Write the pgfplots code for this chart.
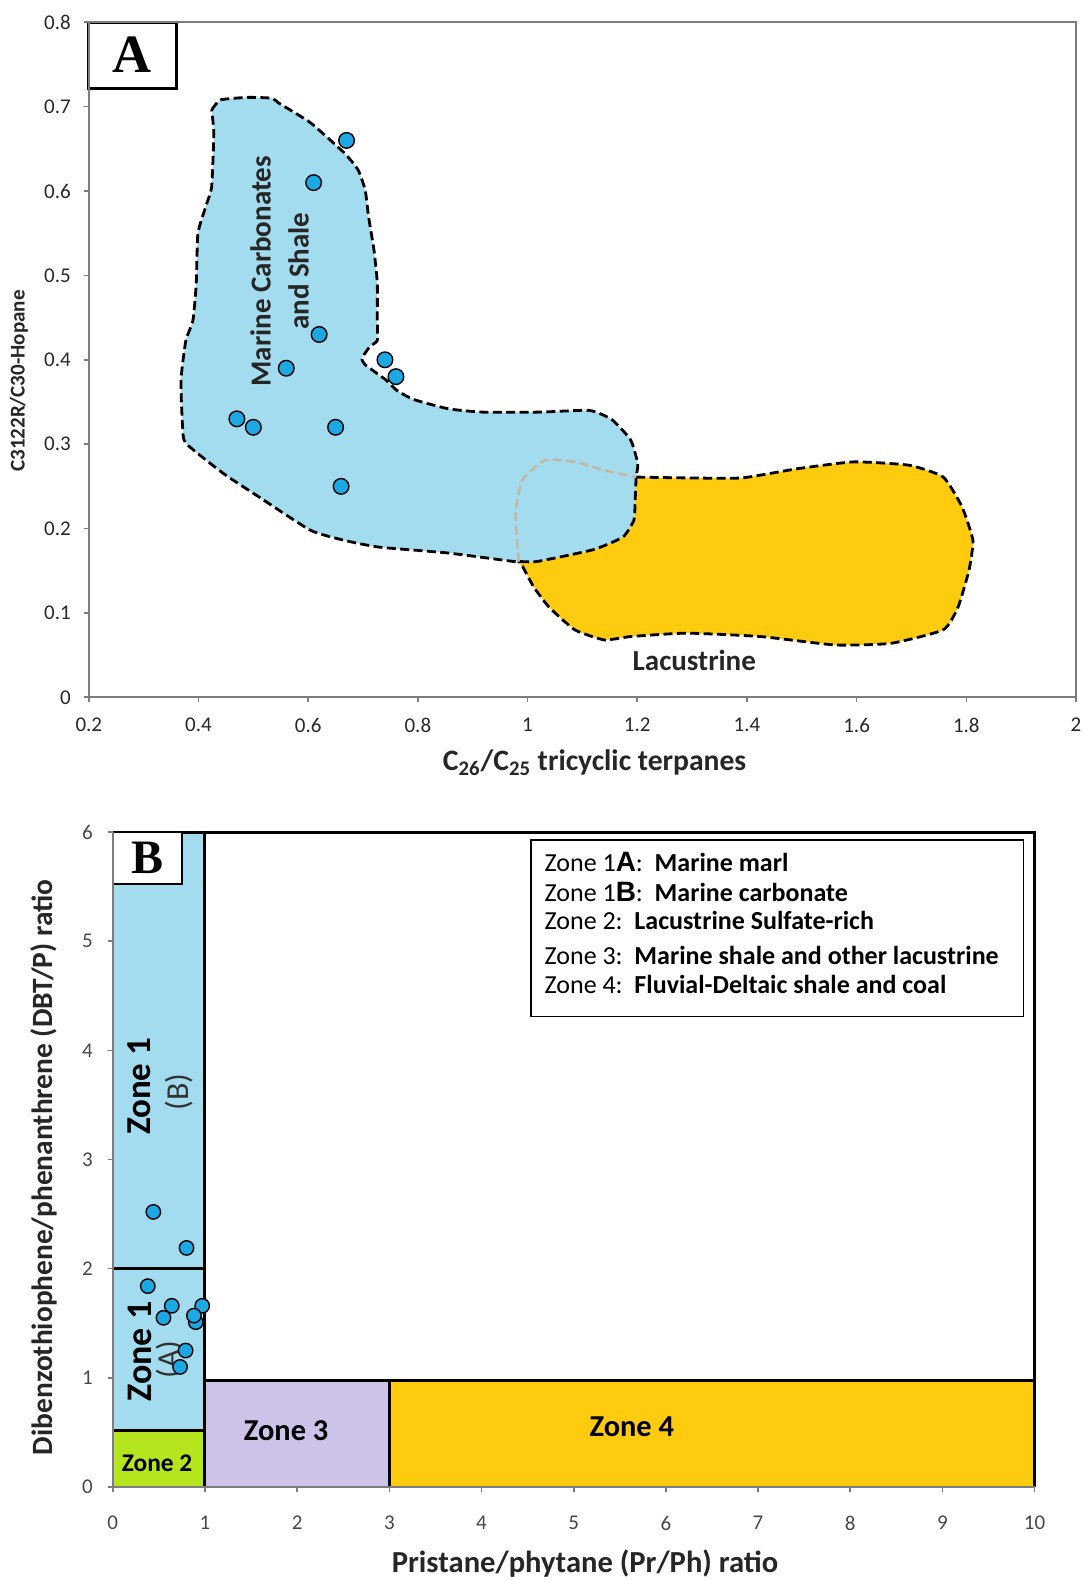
\documentclass[border=0pt]{standalone}
\usepackage{pgfplots}
\pgfplotsset{compat=1.18}
\usepackage{fontspec}
\setmainfont{Carlito}
\newfontfamily\timesfont{Liberation Serif}
\newfontfamily\arialfont{Liberation Sans}

\definecolor{marineblue}{RGB}{163,220,238}
\definecolor{lacyellow}{RGB}{254,203,15}
\definecolor{ptblue}{RGB}{28,168,226}
\definecolor{zonegreen}{RGB}{181,230,29}
\definecolor{zonelilac}{RGB}{205,194,231}
\definecolor{framegray}{RGB}{125,125,125}
\definecolor{ghost}{RGB}{196,182,160}
\definecolor{ticktext}{RGB}{40,40,40}

\newcommand{\fs}[2]{\fontsize{#1}{#2}\selectfont}

\tikzset{
  outline/.style={draw=black, line width=1.4pt, dash pattern=on 4.5pt off 2.2pt, line join=round},
  sample/.style={only marks, mark=*, mark size=3.9pt,
    mark options={fill=ptblue, draw=black, line width=0.7pt}},
}

\begin{document}
\begin{tikzpicture}
\path[use as bounding box] (0,0) rectangle (541.5pt,790pt);

% ---------------- Panel A ----------------
\begin{axis}[
  at={(44.4pt,441.35pt)}, anchor=south west,
  scale only axis, width=493.6pt, height=337.5pt,
  xmin=0.2, xmax=2, ymin=0, ymax=0.8,
  xtick={0.2,0.4,0.6,0.8,1,1.2,1.4,1.6,1.8,2},
  ytick={0,0.1,0.2,0.3,0.4,0.5,0.6,0.7,0.8},
  tick pos=left, tick align=outside,
  major tick length=2.5pt,
  tick style={framegray, line width=0.8pt},
  axis line style={framegray, line width=1pt},
  /pgf/number format/assume math mode=true,
  ticklabel style={font=\fs{10.5pt}{12pt}, text=ticktext},
  xticklabel style={yshift=-4.5pt},
  yticklabel style={xshift=-3pt},
  axis on top,
  clip=false,
]
% Lacustrine field
\addplot[fill=lacyellow, outline, smooth, tension=0.3] coordinates {
 (1.198,0.261) (1.290,0.260) (1.391,0.260) (1.493,0.271) (1.595,0.279)
 (1.696,0.275) (1.758,0.261) (1.792,0.226) (1.812,0.186) (1.805,0.151)
 (1.785,0.107) (1.758,0.080) (1.663,0.064) (1.561,0.062) (1.425,0.072)
 (1.290,0.076) (1.188,0.072) (1.140,0.068) (1.086,0.080) (1.039,0.107)
 (1.011,0.131) (0.991,0.155) (0.984,0.161) (0.978,0.218) (0.991,0.258)
 (1.032,0.281) (1.086,0.279) (1.140,0.269) (1.198,0.261)};
% Marine carbonates and shale field
\addplot[fill=marineblue, outline, smooth, tension=0.3] coordinates {
 (0.424,0.696) (0.440,0.708) (0.490,0.711) (0.534,0.710) (0.547,0.704)
 (0.604,0.681) (0.666,0.645) (0.691,0.625) (0.704,0.601) (0.710,0.570)
 (0.720,0.530) (0.726,0.491) (0.726,0.450) (0.726,0.423) (0.713,0.416)
 (0.698,0.402) (0.704,0.394) (0.742,0.376) (0.761,0.364) (0.792,0.353)
 (0.855,0.342) (0.917,0.338) (1.023,0.338) (1.113,0.340) (1.154,0.329)
 (1.188,0.305) (1.201,0.277) (1.198,0.261) (1.196,0.230) (1.194,0.210)
 (1.174,0.190) (1.120,0.175) (1.018,0.161) (0.984,0.161) (0.974,0.161)
 (0.855,0.171) (0.729,0.178) (0.666,0.186) (0.604,0.198) (0.509,0.238)
 (0.446,0.265) (0.377,0.301) (0.371,0.321) (0.368,0.376) (0.377,0.423)
 (0.390,0.447) (0.396,0.491) (0.399,0.550) (0.415,0.585) (0.424,0.605)
 (0.428,0.668) (0.424,0.696)};
% hidden edge of the lacustrine field
\addplot[ghost, line width=1.2pt, dash pattern=on 4.5pt off 2.2pt, smooth, tension=0.3] coordinates {
 (0.984,0.161) (0.978,0.218) (0.991,0.258) (1.032,0.281) (1.086,0.279)
 (1.140,0.269) (1.198,0.261)};

\node[rotate=90, align=center, font=\fs{14.5pt}{19pt}\bfseries, text=black!85]
  at (axis cs:0.548,0.505) {Marine Carbonates\\and Shale};
\node[font=\fs{14.5pt}{17pt}\bfseries, text=black!85] at (axis cs:1.304,0.044) {Lacustrine};

\addplot[sample] coordinates {
 (0.67,0.66) (0.61,0.61) (0.62,0.43) (0.56,0.39) (0.74,0.40)
 (0.76,0.38) (0.47,0.33) (0.50,0.32) (0.65,0.32) (0.66,0.25)};

\draw[fill=white, line width=1.5pt] (axis cs:0.2,0.8) rectangle (axis cs:0.360,0.721);
\node[font=\timesfont\bfseries\fs{27pt}{30pt}] at (axis cs:0.278,0.762) {A};
\end{axis}

\node[rotate=90, font=\fs{10.5pt}{12pt}\bfseries, text=black!85] at (9.5pt,599.5pt) {C3122R/C30-Hopane};
\node[font=\fs{14.8pt}{17pt}\bfseries, text=black!85] at (297.3pt,408.6pt)
  {C\textsubscript{26}/C\textsubscript{25} tricyclic terpanes};

% ---------------- Panel B ----------------
\begin{axis}[
  at={(56.4pt,46.5pt)}, anchor=south west,
  scale only axis, width=460.9pt, height=327.5pt,
  xmin=0, xmax=10, ymin=0, ymax=6,
  xtick={0,1,2,3,4,5,6,7,8,9,10}, ytick={0,1,2,3,4,5,6},
  axis x line*=bottom, axis y line*=left,
  tick align=outside,
  major tick length=2.5pt,
  tick style={framegray, line width=0.8pt},
  axis line style={framegray, line width=1pt},
  /pgf/number format/assume math mode=true,
  ticklabel style={font=\fs{10.5pt}{12pt}, text=ticktext!85},
  xticklabel style={yshift=-8.5pt},
  yticklabel style={xshift=-4pt},
  axis on top,
  clip=false,
]
% zone fields
\addplot[fill=marineblue, draw=none] coordinates {(0,0.52) (1,0.52) (1,6) (0,6) (0,0.52)};
\addplot[fill=zonegreen, draw=none] coordinates {(0,0) (1,0) (1,0.52) (0,0.52) (0,0)};
\addplot[fill=zonelilac, draw=none] coordinates {(1,0) (3,0) (3,0.98) (1,0.98) (1,0)};
\addplot[fill=lacyellow, draw=none] coordinates {(3,0) (10,0) (10,0.98) (3,0.98) (3,0)};
% zone boundaries and frame
\addplot[black, line width=1.2pt] coordinates {(0,2) (1,2)};
\addplot[black, line width=1.6pt] coordinates {(0,0.52) (1,0.52)};
\addplot[black, line width=1.5pt] coordinates {(1,0) (1,6)};
\addplot[black, line width=1.5pt] coordinates {(1,0.98) (10,0.98)};
\addplot[black, line width=1.3pt] coordinates {(3,0) (3,0.98)};
\addplot[black, line width=1.5pt] coordinates {(0,6) (10,6) (10,0)};

\node[rotate=90, font=\fs{17.5pt}{20pt}\bfseries] at (axis cs:0.29,3.67) {Zone 1};
\node[rotate=90, font=\fs{16pt}{18pt}, text=black!80] at (axis cs:0.72,3.62) {(B)};
\node[rotate=90, font=\fs{18pt}{20pt}\bfseries] at (axis cs:0.29,1.24) {Zone 1};
\node[rotate=90, font=\fs{16pt}{18pt}, text=black!80] at (axis cs:0.62,1.17) {(A)};
\node[font=\fs{12.7pt}{15pt}\bfseries] at (axis cs:0.48,0.22) {Zone 2};
\node[font=\fs{15.2pt}{17pt}\bfseries] at (axis cs:1.88,0.52) {Zone 3};
\node[font=\fs{15.2pt}{17pt}\bfseries] at (axis cs:5.63,0.55) {Zone 4};

\draw[fill=white, line width=1pt] (axis cs:0,6) rectangle (axis cs:0.756,5.52);
\node[font=\timesfont\bfseries\fs{24pt}{27pt}] at (axis cs:0.38,5.76) {B};

% key to the zones
\draw[fill=white, line width=0.9pt] (axis cs:4.54,4.31) rectangle (axis cs:9.88,5.925);
\begin{scope}[every node/.style={anchor=west, inner sep=0pt, font=\fs{13pt}{15pt}}]
\node at (axis cs:4.68,5.73) {Zone 1{\arialfont\bfseries\fs{14pt}{15pt}A}:\ \ \textbf{Marine marl}};
\node at (axis cs:4.68,5.45) {Zone 1{\arialfont\bfseries\fs{14pt}{15pt}B}:\ \ \textbf{Marine carbonate}};
\node at (axis cs:4.68,5.19) {Zone 2:\ \ \textbf{Lacustrine Sulfate-rich}};
\node at (axis cs:4.68,4.87) {Zone 3:\ \ \textbf{Marine shale and other lacustrine}};
\node at (axis cs:4.68,4.60) {Zone 4:\ \ \textbf{Fluvial-Deltaic shale and coal}};
\end{scope}

\addplot[sample, mark size=3.6pt] coordinates {
 (0.44,2.52) (0.80,2.19) (0.38,1.84) (0.64,1.66) (0.97,1.66)
 (0.55,1.55) (0.90,1.51) (0.88,1.57) (0.79,1.25) (0.73,1.10)};
\end{axis}

\node[rotate=90, font=\fs{14.7pt}{17pt}\bfseries, text=black!85] at (22pt,206.3pt)
  {Dibenzothiophene/phenanthrene (DBT/P) ratio};
\node[font=\fs{15.3pt}{17pt}\bfseries, text=black!85] at (292.5pt,8pt)
  {Pristane/phytane (Pr/Ph) ratio};
\end{tikzpicture}
\end{document}
